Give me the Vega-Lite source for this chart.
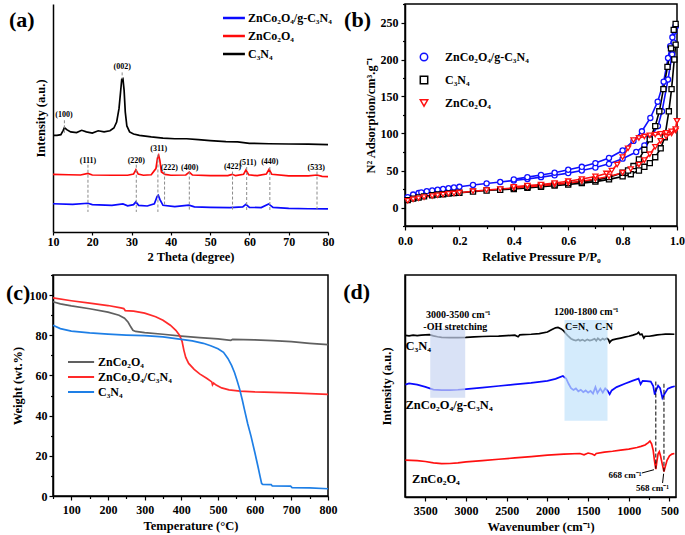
{
"$schema": "https://vega.github.io/schema/vega-lite/v6.json",
"padding": {"left": 5, "top": 2, "right": 5, "bottom": 5},
"background": "white",
"config": {
  "font": "Liberation Serif",
  "axis": {"labelFont": "Liberation Serif", "labelFontWeight": "bold", "labelFontSize": 12, "labelColor": "#000", "titleFont": "Liberation Serif", "titleFontWeight": "bold", "titleFontSize": 12.5, "titleColor": "#000", "domainColor": "#000", "domainWidth": 1.5, "tickColor": "#000", "tickWidth": 1.2, "tickSize": 4, "grid": false, "labelPadding": 3, "labelFlush": false, "labelOverlap": false, "labelSeparation": 0},
  "legend": {"labelFont": "Liberation Serif", "labelFontWeight": "bold", "labelFontSize": 12, "labelColor": "#000", "padding": 0},
  "view": {"stroke": "#000", "strokeWidth": 1.5}
},
"datasets": {
  "a_lines": [
    {"s":"C₃N₄","x":10,"y":42.4},{"s":"C₃N₄","x":11,"y":42.4},{"s":"C₃N₄","x":12,"y":42.7},{"s":"C₃N₄","x":12.6,"y":44.6},{"s":"C₃N₄","x":12.9,"y":45.8},{"s":"C₃N₄","x":13.5,"y":44.9},{"s":"C₃N₄","x":14.5,"y":43.9},{"s":"C₃N₄","x":16,"y":43.6},{"s":"C₃N₄","x":17.3,"y":44.6},{"s":"C₃N₄","x":18.5,"y":43.9},{"s":"C₃N₄","x":20,"y":43.4},{"s":"C₃N₄","x":21.5,"y":44.4},{"s":"C₃N₄","x":23,"y":43.9},{"s":"C₃N₄","x":24.5,"y":44.4},{"s":"C₃N₄","x":25.5,"y":45.6},{"s":"C₃N₄","x":26.2,"y":48.2},{"s":"C₃N₄","x":26.8,"y":54.1},{"s":"C₃N₄","x":27.2,"y":61.4},{"s":"C₃N₄","x":27.5,"y":67.0},{"s":"C₃N₄","x":27.8,"y":67.3},{"s":"C₃N₄","x":28.1,"y":62.1},{"s":"C₃N₄","x":28.4,"y":52.6},{"s":"C₃N₄","x":28.8,"y":46.5},{"s":"C₃N₄","x":29.5,"y":43.9},{"s":"C₃N₄","x":30.5,"y":43.0},{"s":"C₃N₄","x":32,"y":42.4},{"s":"C₃N₄","x":35,"y":41.7},{"s":"C₃N₄","x":38,"y":41.2},{"s":"C₃N₄","x":41,"y":40.9},{"s":"C₃N₄","x":44,"y":40.9},{"s":"C₃N₄","x":47,"y":40.5},{"s":"C₃N₄","x":50,"y":40.1},{"s":"C₃N₄","x":54,"y":39.6},{"s":"C₃N₄","x":57,"y":39.5},{"s":"C₃N₄","x":60,"y":38.9},{"s":"C₃N₄","x":65,"y":38.7},{"s":"C₃N₄","x":70,"y":38.6},{"s":"C₃N₄","x":75,"y":38.5},{"s":"C₃N₄","x":80,"y":38.3},
    {"s":"ZnCo₂O₄","x":10,"y":25.3},{"s":"ZnCo₂O₄","x":14,"y":25.1},{"s":"ZnCo₂O₄","x":17,"y":25.0},{"s":"ZnCo₂O₄","x":18.9,"y":25.7},{"s":"ZnCo₂O₄","x":20,"y":25.0},{"s":"ZnCo₂O₄","x":25,"y":24.9},{"s":"ZnCo₂O₄","x":29,"y":24.9},{"s":"ZnCo₂O₄","x":30.5,"y":25.4},{"s":"ZnCo₂O₄","x":31.1,"y":27.3},{"s":"ZnCo₂O₄","x":31.7,"y":25.4},{"s":"ZnCo₂O₄","x":33,"y":24.9},{"s":"ZnCo₂O₄","x":35,"y":25.1},{"s":"ZnCo₂O₄","x":36.2,"y":27.8},{"s":"ZnCo₂O₄","x":36.6,"y":32.5},{"s":"ZnCo₂O₄","x":36.9,"y":33.6},{"s":"ZnCo₂O₄","x":37.2,"y":31.4},{"s":"ZnCo₂O₄","x":37.6,"y":26.3},{"s":"ZnCo₂O₄","x":38.5,"y":25.3},{"s":"ZnCo₂O₄","x":40,"y":24.9},{"s":"ZnCo₂O₄","x":43.8,"y":25.0},{"s":"ZnCo₂O₄","x":44.7,"y":26.3},{"s":"ZnCo₂O₄","x":45.5,"y":25.0},{"s":"ZnCo₂O₄","x":50,"y":24.7},{"s":"ZnCo₂O₄","x":54.5,"y":24.7},{"s":"ZnCo₂O₄","x":55.6,"y":25.3},{"s":"ZnCo₂O₄","x":56.5,"y":24.7},{"s":"ZnCo₂O₄","x":58.5,"y":25.3},{"s":"ZnCo₂O₄","x":59.1,"y":27.2},{"s":"ZnCo₂O₄","x":59.8,"y":25.1},{"s":"ZnCo₂O₄","x":62,"y":24.7},{"s":"ZnCo₂O₄","x":64.3,"y":25.4},{"s":"ZnCo₂O₄","x":65.0,"y":27.5},{"s":"ZnCo₂O₄","x":65.7,"y":25.3},{"s":"ZnCo₂O₄","x":70,"y":24.6},{"s":"ZnCo₂O₄","x":75,"y":24.6},{"s":"ZnCo₂O₄","x":77.2,"y":25.0},{"s":"ZnCo₂O₄","x":78.5,"y":24.4},{"s":"ZnCo₂O₄","x":80,"y":24.3},
    {"s":"ZnCo₂O₄/g-C₃N₄","x":10,"y":12.4},{"s":"ZnCo₂O₄/g-C₃N₄","x":15,"y":12.1},{"s":"ZnCo₂O₄/g-C₃N₄","x":18.9,"y":12.6},{"s":"ZnCo₂O₄/g-C₃N₄","x":20,"y":12.0},{"s":"ZnCo₂O₄/g-C₃N₄","x":25,"y":11.7},{"s":"ZnCo₂O₄/g-C₃N₄","x":27.8,"y":12.3},{"s":"ZnCo₂O₄/g-C₃N₄","x":29,"y":11.5},{"s":"ZnCo₂O₄/g-C₃N₄","x":30.5,"y":12.0},{"s":"ZnCo₂O₄/g-C₃N₄","x":31.1,"y":13.2},{"s":"ZnCo₂O₄/g-C₃N₄","x":31.8,"y":11.7},{"s":"ZnCo₂O₄/g-C₃N₄","x":34,"y":11.4},{"s":"ZnCo₂O₄/g-C₃N₄","x":35.8,"y":12.4},{"s":"ZnCo₂O₄/g-C₃N₄","x":36.5,"y":15.6},{"s":"ZnCo₂O₄/g-C₃N₄","x":36.8,"y":16.1},{"s":"ZnCo₂O₄/g-C₃N₄","x":37.2,"y":14.3},{"s":"ZnCo₂O₄/g-C₃N₄","x":38,"y":11.7},{"s":"ZnCo₂O₄/g-C₃N₄","x":41,"y":11.1},{"s":"ZnCo₂O₄/g-C₃N₄","x":44.6,"y":11.8},{"s":"ZnCo₂O₄/g-C₃N₄","x":46,"y":11.0},{"s":"ZnCo₂O₄/g-C₃N₄","x":50,"y":10.8},{"s":"ZnCo₂O₄/g-C₃N₄","x":55,"y":10.7},{"s":"ZnCo₂O₄/g-C₃N₄","x":58.3,"y":11.0},{"s":"ZnCo₂O₄/g-C₃N₄","x":59.1,"y":12.1},{"s":"ZnCo₂O₄/g-C₃N₄","x":60,"y":10.8},{"s":"ZnCo₂O₄/g-C₃N₄","x":63,"y":10.7},{"s":"ZnCo₂O₄/g-C₃N₄","x":64.9,"y":12.3},{"s":"ZnCo₂O₄/g-C₃N₄","x":66,"y":10.8},{"s":"ZnCo₂O₄/g-C₃N₄","x":70,"y":10.4},{"s":"ZnCo₂O₄/g-C₃N₄","x":75,"y":10.2},{"s":"ZnCo₂O₄/g-C₃N₄","x":80,"y":10.1}
  ],
  "a_rules": [
    {"x":18.9,"y":29.5,"y2":8.8},{"x":31.2,"y":29.5,"y2":8.8},{"x":36.7,"y":34,"y2":8.8},{"x":38.4,"y":26.5,"y2":11.5},{"x":44.7,"y":26.5,"y2":9.5},{"x":55.7,"y":26.5,"y2":9.2},{"x":59.3,"y":28.5,"y2":9.5},{"x":65.2,"y":28.5,"y2":9.5},{"x":77.2,"y":26.5,"y2":9.2},{"x":12.9,"y":49,"y2":43.5},{"x":27.6,"y":70,"y2":67}
  ],
  "a_labels": [
    {"x":12.8,"y":51.2,"t":"(100)"},{"x":27.6,"y":72.4,"t":"(002)"},{"x":18.9,"y":31.0,"t":"(111)"},{"x":31.2,"y":31.0,"t":"(220)"},{"x":36.9,"y":36.5,"t":"(311)"},{"x":39.6,"y":28.2,"t":"(222)"},{"x":44.8,"y":28.2,"t":"(400)"},{"x":55.7,"y":28.7,"t":"(422)"},{"x":59.6,"y":30.4,"t":"(511)"},{"x":65.2,"y":30.7,"t":"(440)"},{"x":77.0,"y":28.2,"t":"(533)"}
  ],
  "a_tag": [{"x":-1.2,"y":89.9,"t":"(a)"}],
  "b_tag": [{"x":-0.224,"y":243.9,"t":"(b)"}],
  "c_tag": [{"x":-78.2,"y":97.6,"t":"(c)"}],
  "d_tag": [{"x":4510,"y":89.2,"t":"(d)"}],
  "b_pts": [
    {"s":"ZnCo₂O₄/g-C₃N₄","b":"a","x":0.01,"y":14},{"s":"ZnCo₂O₄/g-C₃N₄","b":"a","x":0.03,"y":17.5},{"s":"ZnCo₂O₄/g-C₃N₄","b":"a","x":0.05,"y":19.5},{"s":"ZnCo₂O₄/g-C₃N₄","b":"a","x":0.06,"y":20.5},{"s":"ZnCo₂O₄/g-C₃N₄","b":"a","x":0.08,"y":22},{"s":"ZnCo₂O₄/g-C₃N₄","b":"a","x":0.1,"y":23},{"s":"ZnCo₂O₄/g-C₃N₄","b":"a","x":0.12,"y":24},{"s":"ZnCo₂O₄/g-C₃N₄","b":"a","x":0.14,"y":25},{"s":"ZnCo₂O₄/g-C₃N₄","b":"a","x":0.16,"y":26},{"s":"ZnCo₂O₄/g-C₃N₄","b":"a","x":0.18,"y":27},{"s":"ZnCo₂O₄/g-C₃N₄","b":"a","x":0.2,"y":28},{"s":"ZnCo₂O₄/g-C₃N₄","b":"a","x":0.25,"y":30.5},{"s":"ZnCo₂O₄/g-C₃N₄","b":"a","x":0.3,"y":32.5},{"s":"ZnCo₂O₄/g-C₃N₄","b":"a","x":0.35,"y":34.5},{"s":"ZnCo₂O₄/g-C₃N₄","b":"a","x":0.4,"y":36.5},{"s":"ZnCo₂O₄/g-C₃N₄","b":"a","x":0.45,"y":38.5},{"s":"ZnCo₂O₄/g-C₃N₄","b":"a","x":0.5,"y":41},{"s":"ZnCo₂O₄/g-C₃N₄","b":"a","x":0.55,"y":43.5},{"s":"ZnCo₂O₄/g-C₃N₄","b":"a","x":0.6,"y":46.5},{"s":"ZnCo₂O₄/g-C₃N₄","b":"a","x":0.65,"y":50},{"s":"ZnCo₂O₄/g-C₃N₄","b":"a","x":0.7,"y":54},{"s":"ZnCo₂O₄/g-C₃N₄","b":"a","x":0.75,"y":59},{"s":"ZnCo₂O₄/g-C₃N₄","b":"a","x":0.8,"y":66},{"s":"ZnCo₂O₄/g-C₃N₄","b":"a","x":0.85,"y":75},{"s":"ZnCo₂O₄/g-C₃N₄","b":"a","x":0.88,"y":84},{"s":"ZnCo₂O₄/g-C₃N₄","b":"a","x":0.9,"y":94},{"s":"ZnCo₂O₄/g-C₃N₄","b":"a","x":0.93,"y":110},{"s":"ZnCo₂O₄/g-C₃N₄","b":"a","x":0.945,"y":130},{"s":"ZnCo₂O₄/g-C₃N₄","b":"a","x":0.967,"y":173},{"s":"ZnCo₂O₄/g-C₃N₄","b":"a","x":0.982,"y":207},{"s":"ZnCo₂O₄/g-C₃N₄","b":"a","x":0.988,"y":223},{"s":"ZnCo₂O₄/g-C₃N₄","b":"a","x":0.995,"y":245},
    {"s":"ZnCo₂O₄/g-C₃N₄","b":"d","x":0.995,"y":245},{"s":"ZnCo₂O₄/g-C₃N₄","b":"d","x":0.99,"y":238},{"s":"ZnCo₂O₄/g-C₃N₄","b":"d","x":0.983,"y":230},{"s":"ZnCo₂O₄/g-C₃N₄","b":"d","x":0.975,"y":218},{"s":"ZnCo₂O₄/g-C₃N₄","b":"d","x":0.967,"y":202},{"s":"ZnCo₂O₄/g-C₃N₄","b":"d","x":0.951,"y":170},{"s":"ZnCo₂O₄/g-C₃N₄","b":"d","x":0.929,"y":143},{"s":"ZnCo₂O₄/g-C₃N₄","b":"d","x":0.902,"y":121},{"s":"ZnCo₂O₄/g-C₃N₄","b":"d","x":0.871,"y":103},{"s":"ZnCo₂O₄/g-C₃N₄","b":"d","x":0.84,"y":90},{"s":"ZnCo₂O₄/g-C₃N₄","b":"d","x":0.8,"y":77},{"s":"ZnCo₂O₄/g-C₃N₄","b":"d","x":0.75,"y":67},{"s":"ZnCo₂O₄/g-C₃N₄","b":"d","x":0.7,"y":60},{"s":"ZnCo₂O₄/g-C₃N₄","b":"d","x":0.65,"y":55},{"s":"ZnCo₂O₄/g-C₃N₄","b":"d","x":0.6,"y":51},{"s":"ZnCo₂O₄/g-C₃N₄","b":"d","x":0.55,"y":47},{"s":"ZnCo₂O₄/g-C₃N₄","b":"d","x":0.5,"y":44},{"s":"ZnCo₂O₄/g-C₃N₄","b":"d","x":0.45,"y":41},{"s":"ZnCo₂O₄/g-C₃N₄","b":"d","x":0.4,"y":38},
    {"s":"C₃N₄","b":"a","x":0.01,"y":10},{"s":"C₃N₄","b":"a","x":0.03,"y":12},{"s":"C₃N₄","b":"a","x":0.05,"y":13.5},{"s":"C₃N₄","b":"a","x":0.07,"y":15},{"s":"C₃N₄","b":"a","x":0.1,"y":16.5},{"s":"C₃N₄","b":"a","x":0.12,"y":17.5},{"s":"C₃N₄","b":"a","x":0.14,"y":18},{"s":"C₃N₄","b":"a","x":0.16,"y":19},{"s":"C₃N₄","b":"a","x":0.18,"y":19.5},{"s":"C₃N₄","b":"a","x":0.2,"y":20},{"s":"C₃N₄","b":"a","x":0.25,"y":21.5},{"s":"C₃N₄","b":"a","x":0.3,"y":23},{"s":"C₃N₄","b":"a","x":0.35,"y":24},{"s":"C₃N₄","b":"a","x":0.4,"y":25},{"s":"C₃N₄","b":"a","x":0.45,"y":26.5},{"s":"C₃N₄","b":"a","x":0.5,"y":28},{"s":"C₃N₄","b":"a","x":0.55,"y":29.5},{"s":"C₃N₄","b":"a","x":0.6,"y":31},{"s":"C₃N₄","b":"a","x":0.65,"y":33},{"s":"C₃N₄","b":"a","x":0.7,"y":35},{"s":"C₃N₄","b":"a","x":0.75,"y":38},{"s":"C₃N₄","b":"a","x":0.8,"y":42},{"s":"C₃N₄","b":"a","x":0.83,"y":45},{"s":"C₃N₄","b":"a","x":0.86,"y":50},{"s":"C₃N₄","b":"a","x":0.88,"y":55},{"s":"C₃N₄","b":"a","x":0.9,"y":60},{"s":"C₃N₄","b":"a","x":0.92,"y":68},{"s":"C₃N₄","b":"a","x":0.94,"y":80},{"s":"C₃N₄","b":"a","x":0.955,"y":95},{"s":"C₃N₄","b":"a","x":0.97,"y":130},{"s":"C₃N₄","b":"a","x":0.98,"y":160},{"s":"C₃N₄","b":"a","x":0.99,"y":200},{"s":"C₃N₄","b":"a","x":0.995,"y":220},
    {"s":"C₃N₄","b":"d","x":0.995,"y":248},{"s":"C₃N₄","b":"d","x":0.988,"y":240},{"s":"C₃N₄","b":"d","x":0.978,"y":215},{"s":"C₃N₄","b":"d","x":0.965,"y":190},{"s":"C₃N₄","b":"d","x":0.95,"y":160},{"s":"C₃N₄","b":"d","x":0.935,"y":130},{"s":"C₃N₄","b":"d","x":0.92,"y":110},{"s":"C₃N₄","b":"d","x":0.9,"y":92},{"s":"C₃N₄","b":"d","x":0.88,"y":78},{"s":"C₃N₄","b":"d","x":0.86,"y":65},{"s":"C₃N₄","b":"d","x":0.84,"y":56},{"s":"C₃N₄","b":"d","x":0.82,"y":50},{"s":"C₃N₄","b":"d","x":0.8,"y":47},{"s":"C₃N₄","b":"d","x":0.75,"y":41},{"s":"C₃N₄","b":"d","x":0.7,"y":37},{"s":"C₃N₄","b":"d","x":0.65,"y":35},{"s":"C₃N₄","b":"d","x":0.6,"y":33},{"s":"C₃N₄","b":"d","x":0.55,"y":31},{"s":"C₃N₄","b":"d","x":0.5,"y":29.5},{"s":"C₃N₄","b":"d","x":0.45,"y":28},{"s":"C₃N₄","b":"d","x":0.4,"y":26.5},
    {"s":"ZnCo₂O₄","b":"a","x":0.01,"y":9},{"s":"ZnCo₂O₄","b":"a","x":0.03,"y":11},{"s":"ZnCo₂O₄","b":"a","x":0.05,"y":12.5},{"s":"ZnCo₂O₄","b":"a","x":0.07,"y":14},{"s":"ZnCo₂O₄","b":"a","x":0.1,"y":15.5},{"s":"ZnCo₂O₄","b":"a","x":0.12,"y":16.5},{"s":"ZnCo₂O₄","b":"a","x":0.14,"y":17.5},{"s":"ZnCo₂O₄","b":"a","x":0.16,"y":18.5},{"s":"ZnCo₂O₄","b":"a","x":0.18,"y":19},{"s":"ZnCo₂O₄","b":"a","x":0.2,"y":20},{"s":"ZnCo₂O₄","b":"a","x":0.25,"y":22},{"s":"ZnCo₂O₄","b":"a","x":0.3,"y":23.5},{"s":"ZnCo₂O₄","b":"a","x":0.35,"y":25},{"s":"ZnCo₂O₄","b":"a","x":0.4,"y":26.5},{"s":"ZnCo₂O₄","b":"a","x":0.45,"y":28},{"s":"ZnCo₂O₄","b":"a","x":0.5,"y":29.5},{"s":"ZnCo₂O₄","b":"a","x":0.55,"y":31},{"s":"ZnCo₂O₄","b":"a","x":0.6,"y":33},{"s":"ZnCo₂O₄","b":"a","x":0.65,"y":35.5},{"s":"ZnCo₂O₄","b":"a","x":0.7,"y":38.5},{"s":"ZnCo₂O₄","b":"a","x":0.75,"y":42},{"s":"ZnCo₂O₄","b":"a","x":0.8,"y":47},{"s":"ZnCo₂O₄","b":"a","x":0.83,"y":52},{"s":"ZnCo₂O₄","b":"a","x":0.86,"y":58},{"s":"ZnCo₂O₄","b":"a","x":0.88,"y":64},{"s":"ZnCo₂O₄","b":"a","x":0.9,"y":72},{"s":"ZnCo₂O₄","b":"a","x":0.92,"y":82},{"s":"ZnCo₂O₄","b":"a","x":0.94,"y":90},{"s":"ZnCo₂O₄","b":"a","x":0.96,"y":96},{"s":"ZnCo₂O₄","b":"a","x":0.98,"y":100},{"s":"ZnCo₂O₄","b":"a","x":0.995,"y":104},{"s":"ZnCo₂O₄","b":"a","x":1.0,"y":117},
    {"s":"ZnCo₂O₄","b":"d","x":1.0,"y":117},{"s":"ZnCo₂O₄","b":"d","x":0.995,"y":106},{"s":"ZnCo₂O₄","b":"d","x":0.98,"y":103},{"s":"ZnCo₂O₄","b":"d","x":0.96,"y":101},{"s":"ZnCo₂O₄","b":"d","x":0.94,"y":99.5},{"s":"ZnCo₂O₄","b":"d","x":0.92,"y":98.5},{"s":"ZnCo₂O₄","b":"d","x":0.9,"y":97.5},{"s":"ZnCo₂O₄","b":"d","x":0.88,"y":96},{"s":"ZnCo₂O₄","b":"d","x":0.86,"y":94},{"s":"ZnCo₂O₄","b":"d","x":0.84,"y":91},{"s":"ZnCo₂O₄","b":"d","x":0.82,"y":80},{"s":"ZnCo₂O₄","b":"d","x":0.8,"y":68},{"s":"ZnCo₂O₄","b":"d","x":0.78,"y":58},{"s":"ZnCo₂O₄","b":"d","x":0.76,"y":50},{"s":"ZnCo₂O₄","b":"d","x":0.74,"y":46},{"s":"ZnCo₂O₄","b":"d","x":0.7,"y":42},{"s":"ZnCo₂O₄","b":"d","x":0.65,"y":38.5},{"s":"ZnCo₂O₄","b":"d","x":0.6,"y":35.5},{"s":"ZnCo₂O₄","b":"d","x":0.55,"y":33},{"s":"ZnCo₂O₄","b":"d","x":0.5,"y":31},{"s":"ZnCo₂O₄","b":"d","x":0.45,"y":29.5},{"s":"ZnCo₂O₄","b":"d","x":0.4,"y":28}
  ],
  "c_lines": [
    {"s":"ZnCo₂O₄","x":50,"y":96.7},{"s":"ZnCo₂O₄","x":70,"y":95.6},{"s":"ZnCo₂O₄","x":100,"y":94.6},{"s":"ZnCo₂O₄","x":150,"y":93.2},{"s":"ZnCo₂O₄","x":200,"y":91.5},{"s":"ZnCo₂O₄","x":230,"y":90},{"s":"ZnCo₂O₄","x":245,"y":88.5},{"s":"ZnCo₂O₄","x":255,"y":86.5},{"s":"ZnCo₂O₄","x":262,"y":84.2},{"s":"ZnCo₂O₄","x":268,"y":82.5},{"s":"ZnCo₂O₄","x":275,"y":81.9},{"s":"ZnCo₂O₄","x":300,"y":81.3},{"s":"ZnCo₂O₄","x":350,"y":80.5},{"s":"ZnCo₂O₄","x":400,"y":79.6},{"s":"ZnCo₂O₄","x":450,"y":78.8},{"s":"ZnCo₂O₄","x":500,"y":78.2},{"s":"ZnCo₂O₄","x":535,"y":77.5},{"s":"ZnCo₂O₄","x":540,"y":78.0},{"s":"ZnCo₂O₄","x":600,"y":77.7},{"s":"ZnCo₂O₄","x":650,"y":77.3},{"s":"ZnCo₂O₄","x":700,"y":76.8},{"s":"ZnCo₂O₄","x":750,"y":76},{"s":"ZnCo₂O₄","x":800,"y":75.3},
    {"s":"ZnCo₂O₄/C₃N₄","x":50,"y":98.6},{"s":"ZnCo₂O₄/C₃N₄","x":100,"y":97.2},{"s":"ZnCo₂O₄/C₃N₄","x":150,"y":96},{"s":"ZnCo₂O₄/C₃N₄","x":200,"y":94.8},{"s":"ZnCo₂O₄/C₃N₄","x":235,"y":93.6},{"s":"ZnCo₂O₄/C₃N₄","x":243,"y":93.3},{"s":"ZnCo₂O₄/C₃N₄","x":247,"y":92.3},{"s":"ZnCo₂O₄/C₃N₄","x":270,"y":92.0},{"s":"ZnCo₂O₄/C₃N₄","x":300,"y":91.0},{"s":"ZnCo₂O₄/C₃N₄","x":330,"y":89.2},{"s":"ZnCo₂O₄/C₃N₄","x":350,"y":87.5},{"s":"ZnCo₂O₄/C₃N₄","x":370,"y":85},{"s":"ZnCo₂O₄/C₃N₄","x":385,"y":82.5},{"s":"ZnCo₂O₄/C₃N₄","x":395,"y":80},{"s":"ZnCo₂O₄/C₃N₄","x":402,"y":77},{"s":"ZnCo₂O₄/C₃N₄","x":407,"y":72.5},{"s":"ZnCo₂O₄/C₃N₄","x":412,"y":69},{"s":"ZnCo₂O₄/C₃N₄","x":420,"y":66},{"s":"ZnCo₂O₄/C₃N₄","x":435,"y":63},{"s":"ZnCo₂O₄/C₃N₄","x":450,"y":60.8},{"s":"ZnCo₂O₄/C₃N₄","x":470,"y":58.5},{"s":"ZnCo₂O₄/C₃N₄","x":483,"y":56.8},{"s":"ZnCo₂O₄/C₃N₄","x":485,"y":55.3},{"s":"ZnCo₂O₄/C₃N₄","x":488,"y":56.2},{"s":"ZnCo₂O₄/C₃N₄","x":495,"y":55.2},{"s":"ZnCo₂O₄/C₃N₄","x":510,"y":53.8},{"s":"ZnCo₂O₄/C₃N₄","x":530,"y":52.8},{"s":"ZnCo₂O₄/C₃N₄","x":560,"y":52.2},{"s":"ZnCo₂O₄/C₃N₄","x":600,"y":51.8},{"s":"ZnCo₂O₄/C₃N₄","x":700,"y":51.3},{"s":"ZnCo₂O₄/C₃N₄","x":800,"y":50.6},
    {"s":"C₃N₄","x":50,"y":85},{"s":"C₃N₄","x":70,"y":83.3},{"s":"C₃N₄","x":100,"y":82.1},{"s":"C₃N₄","x":150,"y":81.2},{"s":"C₃N₄","x":200,"y":80.6},{"s":"C₃N₄","x":250,"y":80.1},{"s":"C₃N₄","x":300,"y":79.8},{"s":"C₃N₄","x":350,"y":79.2},{"s":"C₃N₄","x":400,"y":78.0},{"s":"C₃N₄","x":430,"y":77.2},{"s":"C₃N₄","x":460,"y":76.0},{"s":"C₃N₄","x":480,"y":74.8},{"s":"C₃N₄","x":500,"y":73.3},{"s":"C₃N₄","x":515,"y":71.5},{"s":"C₃N₄","x":527,"y":68.5},{"s":"C₃N₄","x":537,"y":65},{"s":"C₃N₄","x":545,"y":61.5},{"s":"C₃N₄","x":552,"y":57.5},{"s":"C₃N₄","x":559,"y":53.2},{"s":"C₃N₄","x":566,"y":48},{"s":"C₃N₄","x":572,"y":43.1},{"s":"C₃N₄","x":581,"y":36},{"s":"C₃N₄","x":590,"y":29.8},{"s":"C₃N₄","x":600,"y":22},{"s":"C₃N₄","x":609,"y":14.7},{"s":"C₃N₄","x":615,"y":9.5},{"s":"C₃N₄","x":619,"y":6.2},{"s":"C₃N₄","x":622,"y":5.8},{"s":"C₃N₄","x":645,"y":5.7},{"s":"C₃N₄","x":648,"y":5.0},{"s":"C₃N₄","x":698,"y":4.9},{"s":"C₃N₄","x":702,"y":4.2},{"s":"C₃N₄","x":750,"y":4.0},{"s":"C₃N₄","x":800,"y":3.6}
  ],
  "d_lines": [
    {"s":"C₃N₄","x":3745,"y":72.8},{"s":"C₃N₄","x":3700,"y":72.6},{"s":"C₃N₄","x":3650,"y":72.9},{"s":"C₃N₄","x":3600,"y":72.7},{"s":"C₃N₄","x":3550,"y":72.9},{"s":"C₃N₄","x":3500,"y":73.0},{"s":"C₃N₄","x":3450,"y":73.1},{"s":"C₃N₄","x":3400,"y":72.6},{"s":"C₃N₄","x":3350,"y":72.2},{"s":"C₃N₄","x":3300,"y":71.9},{"s":"C₃N₄","x":3200,"y":71.8},{"s":"C₃N₄","x":3100,"y":71.8},{"s":"C₃N₄","x":3000,"y":71.9},{"s":"C₃N₄","x":2900,"y":72.1},{"s":"C₃N₄","x":2800,"y":72.3},{"s":"C₃N₄","x":2700,"y":72.4},{"s":"C₃N₄","x":2600,"y":72.5},{"s":"C₃N₄","x":2500,"y":72.7},{"s":"C₃N₄","x":2400,"y":72.9},{"s":"C₃N₄","x":2360,"y":72.2},{"s":"C₃N₄","x":2340,"y":73.0},{"s":"C₃N₄","x":2300,"y":73.1},{"s":"C₃N₄","x":2200,"y":73.3},{"s":"C₃N₄","x":2100,"y":73.6},{"s":"C₃N₄","x":2000,"y":74.3},{"s":"C₃N₄","x":1950,"y":75.3},{"s":"C₃N₄","x":1900,"y":76.2},{"s":"C₃N₄","x":1870,"y":76.4},{"s":"C₃N₄","x":1830,"y":75.7},{"s":"C₃N₄","x":1800,"y":74.8},{"s":"C₃N₄","x":1770,"y":73.5},{"s":"C₃N₄","x":1740,"y":72.3},{"s":"C₃N₄","x":1710,"y":71.3},{"s":"C₃N₄","x":1680,"y":70.8},{"s":"C₃N₄","x":1650,"y":70.5},{"s":"C₃N₄","x":1620,"y":71.0},{"s":"C₃N₄","x":1600,"y":70.4},{"s":"C₃N₄","x":1570,"y":70.9},{"s":"C₃N₄","x":1540,"y":70.3},{"s":"C₃N₄","x":1510,"y":71.0},{"s":"C₃N₄","x":1480,"y":70.5},{"s":"C₃N₄","x":1450,"y":70.8},{"s":"C₃N₄","x":1420,"y":71.3},{"s":"C₃N₄","x":1400,"y":70.4},{"s":"C₃N₄","x":1380,"y":71.5},{"s":"C₃N₄","x":1350,"y":70.5},{"s":"C₃N₄","x":1320,"y":71.4},{"s":"C₃N₄","x":1300,"y":70.8},{"s":"C₃N₄","x":1270,"y":71.5},{"s":"C₃N₄","x":1250,"y":70.9},{"s":"C₃N₄","x":1235,"y":69.6},{"s":"C₃N₄","x":1220,"y":70.3},{"s":"C₃N₄","x":1200,"y":70.8},{"s":"C₃N₄","x":1150,"y":71.2},{"s":"C₃N₄","x":1100,"y":71.6},{"s":"C₃N₄","x":1050,"y":72.0},{"s":"C₃N₄","x":1000,"y":72.4},{"s":"C₃N₄","x":950,"y":72.9},{"s":"C₃N₄","x":900,"y":73.5},{"s":"C₃N₄","x":880,"y":74.2},{"s":"C₃N₄","x":860,"y":73.1},{"s":"C₃N₄","x":840,"y":73.4},{"s":"C₃N₄","x":815,"y":71.6},{"s":"C₃N₄","x":800,"y":72.4},{"s":"C₃N₄","x":750,"y":72.4},{"s":"C₃N₄","x":700,"y":72.7},{"s":"C₃N₄","x":650,"y":73.0},{"s":"C₃N₄","x":600,"y":73.2},{"s":"C₃N₄","x":550,"y":73.4},{"s":"C₃N₄","x":500,"y":73.4},{"s":"C₃N₄","x":440,"y":73.3},
    {"s":"ZnCo₂O₄/g-C₃N₄","x":3745,"y":50.6},{"s":"ZnCo₂O₄/g-C₃N₄","x":3700,"y":51.2},{"s":"ZnCo₂O₄/g-C₃N₄","x":3600,"y":50.6},{"s":"ZnCo₂O₄/g-C₃N₄","x":3500,"y":49.6},{"s":"ZnCo₂O₄/g-C₃N₄","x":3400,"y":48.4},{"s":"ZnCo₂O₄/g-C₃N₄","x":3300,"y":48.1},{"s":"ZnCo₂O₄/g-C₃N₄","x":3200,"y":48.1},{"s":"ZnCo₂O₄/g-C₃N₄","x":3100,"y":48.3},{"s":"ZnCo₂O₄/g-C₃N₄","x":3000,"y":48.6},{"s":"ZnCo₂O₄/g-C₃N₄","x":2800,"y":49.3},{"s":"ZnCo₂O₄/g-C₃N₄","x":2600,"y":50.0},{"s":"ZnCo₂O₄/g-C₃N₄","x":2400,"y":50.7},{"s":"ZnCo₂O₄/g-C₃N₄","x":2200,"y":51.4},{"s":"ZnCo₂O₄/g-C₃N₄","x":2000,"y":52.3},{"s":"ZnCo₂O₄/g-C₃N₄","x":1900,"y":53.2},{"s":"ZnCo₂O₄/g-C₃N₄","x":1810,"y":54.5},{"s":"ZnCo₂O₄/g-C₃N₄","x":1770,"y":53.4},{"s":"ZnCo₂O₄/g-C₃N₄","x":1740,"y":51.0},{"s":"ZnCo₂O₄/g-C₃N₄","x":1710,"y":49.0},{"s":"ZnCo₂O₄/g-C₃N₄","x":1680,"y":48.2},{"s":"ZnCo₂O₄/g-C₃N₄","x":1650,"y":48.9},{"s":"ZnCo₂O₄/g-C₃N₄","x":1620,"y":47.6},{"s":"ZnCo₂O₄/g-C₃N₄","x":1590,"y":48.3},{"s":"ZnCo₂O₄/g-C₃N₄","x":1560,"y":47.2},{"s":"ZnCo₂O₄/g-C₃N₄","x":1530,"y":48.0},{"s":"ZnCo₂O₄/g-C₃N₄","x":1500,"y":47.0},{"s":"ZnCo₂O₄/g-C₃N₄","x":1470,"y":47.8},{"s":"ZnCo₂O₄/g-C₃N₄","x":1440,"y":46.6},{"s":"ZnCo₂O₄/g-C₃N₄","x":1410,"y":49.5},{"s":"ZnCo₂O₄/g-C₃N₄","x":1385,"y":46.8},{"s":"ZnCo₂O₄/g-C₃N₄","x":1350,"y":48.8},{"s":"ZnCo₂O₄/g-C₃N₄","x":1320,"y":47.0},{"s":"ZnCo₂O₄/g-C₃N₄","x":1290,"y":48.9},{"s":"ZnCo₂O₄/g-C₃N₄","x":1260,"y":47.8},{"s":"ZnCo₂O₄/g-C₃N₄","x":1235,"y":46.3},{"s":"ZnCo₂O₄/g-C₃N₄","x":1210,"y":48.0},{"s":"ZnCo₂O₄/g-C₃N₄","x":1150,"y":49.5},{"s":"ZnCo₂O₄/g-C₃N₄","x":1050,"y":51.0},{"s":"ZnCo₂O₄/g-C₃N₄","x":950,"y":52.4},{"s":"ZnCo₂O₄/g-C₃N₄","x":880,"y":53.3},{"s":"ZnCo₂O₄/g-C₃N₄","x":855,"y":50.8},{"s":"ZnCo₂O₄/g-C₃N₄","x":830,"y":52.3},{"s":"ZnCo₂O₄/g-C₃N₄","x":780,"y":52.2},{"s":"ZnCo₂O₄/g-C₃N₄","x":730,"y":52.0},{"s":"ZnCo₂O₄/g-C₃N₄","x":700,"y":50.0},{"s":"ZnCo₂O₄/g-C₃N₄","x":681,"y":46.1},{"s":"ZnCo₂O₄/g-C₃N₄","x":660,"y":48.5},{"s":"ZnCo₂O₄/g-C₃N₄","x":640,"y":50.2},{"s":"ZnCo₂O₄/g-C₃N₄","x":615,"y":49.0},{"s":"ZnCo₂O₄/g-C₃N₄","x":587,"y":44.6},{"s":"ZnCo₂O₄/g-C₃N₄","x":560,"y":46.5},{"s":"ZnCo₂O₄/g-C₃N₄","x":520,"y":48.8},{"s":"ZnCo₂O₄/g-C₃N₄","x":475,"y":49.5},{"s":"ZnCo₂O₄/g-C₃N₄","x":435,"y":49.9},
    {"s":"ZnCo₂O₄","x":3745,"y":16.6},{"s":"ZnCo₂O₄","x":3600,"y":16.4},{"s":"ZnCo₂O₄","x":3500,"y":16.0},{"s":"ZnCo₂O₄","x":3400,"y":15.4},{"s":"ZnCo₂O₄","x":3300,"y":15.0},{"s":"ZnCo₂O₄","x":3200,"y":15.1},{"s":"ZnCo₂O₄","x":3100,"y":15.4},{"s":"ZnCo₂O₄","x":3000,"y":15.8},{"s":"ZnCo₂O₄","x":2800,"y":16.4},{"s":"ZnCo₂O₄","x":2600,"y":17.0},{"s":"ZnCo₂O₄","x":2400,"y":17.6},{"s":"ZnCo₂O₄","x":2200,"y":18.2},{"s":"ZnCo₂O₄","x":2000,"y":18.9},{"s":"ZnCo₂O₄","x":1800,"y":19.3},{"s":"ZnCo₂O₄","x":1600,"y":19.6},{"s":"ZnCo₂O₄","x":1550,"y":19.0},{"s":"ZnCo₂O₄","x":1500,"y":19.8},{"s":"ZnCo₂O₄","x":1450,"y":19.4},{"s":"ZnCo₂O₄","x":1420,"y":18.8},{"s":"ZnCo₂O₄","x":1400,"y":19.6},{"s":"ZnCo₂O₄","x":1300,"y":20.2},{"s":"ZnCo₂O₄","x":1200,"y":20.6},{"s":"ZnCo₂O₄","x":1100,"y":21.1},{"s":"ZnCo₂O₄","x":1000,"y":21.6},{"s":"ZnCo₂O₄","x":900,"y":22.3},{"s":"ZnCo₂O₄","x":850,"y":22.8},{"s":"ZnCo₂O₄","x":800,"y":23.4},{"s":"ZnCo₂O₄","x":760,"y":24.5},{"s":"ZnCo₂O₄","x":740,"y":25.2},{"s":"ZnCo₂O₄","x":720,"y":24.0},{"s":"ZnCo₂O₄","x":700,"y":21.0},{"s":"ZnCo₂O₄","x":685,"y":16.5},{"s":"ZnCo₂O₄","x":668,"y":12.6},{"s":"ZnCo₂O₄","x":655,"y":16.0},{"s":"ZnCo₂O₄","x":640,"y":19.5},{"s":"ZnCo₂O₄","x":625,"y":20.4},{"s":"ZnCo₂O₄","x":610,"y":18.5},{"s":"ZnCo₂O₄","x":590,"y":15.0},{"s":"ZnCo₂O₄","x":568,"y":11.5},{"s":"ZnCo₂O₄","x":550,"y":14.0},{"s":"ZnCo₂O₄","x":530,"y":16.5},{"s":"ZnCo₂O₄","x":500,"y":18.5},{"s":"ZnCo₂O₄","x":470,"y":19.3},{"s":"ZnCo₂O₄","x":440,"y":19.6}
  ],
  "d_bands": [
    {"band":"oh","x":3440,"x2":3010,"y":44.7,"y2":75.9},
    {"band":"cn","x":1790,"x2":1262,"y":34.3,"y2":79.7}
  ],
  "d_rules": [
    {"x":668,"y":52,"y2":12.8},{"x":568,"y":51,"y2":11.5}
  ],
  "d_arrows": [
    {"x":840,"x2":690,"y":10.8,"y2":12.3},{"x":585,"x2":572,"y":6.3,"y2":10.5}
  ],
  "d_ctext": [
    {"x":3096,"y":81.8,"t":"3000-3500 cm⁻¹"},{"x":3132,"y":76.6,"t":"-OH stretching"},{"x":1523,"y":83.3,"t":"1200-1800 cm⁻¹"},{"x":1490,"y":76.6,"t":"C=N、C-N"}
  ],
  "d_ltext": [
    {"x":3745,"y":68.0,"t":"C₃N₄"},{"x":3745,"y":41.3,"t":"ZnCo₂O₄/g-C₃N₄"},{"x":3663,"y":8.3,"t":"ZnCo₂O₄"}
  ],
  "d_small": [
    {"x":844,"y":9.8,"t":"668 cm⁻¹","k":"r"},{"x":710,"y":4.2,"t":"568 cm⁻¹","k":"c"}
  ]
},
"concat": [
  {
    "width": 275, "height": 228,
    "view": {"stroke": null},
    "resolve": {"axis": {"x": "independent", "y": "independent"}},
    "layer": [
      {"data": {"name": "a_lines"}, "mark": {"type": "line", "strokeWidth": 1.7},
       "encoding": {
         "x": {"field": "x", "type": "quantitative", "scale": {"domain": [10, 80], "nice": false}, "axis": {"orient": "bottom", "values": [10,20,30,40,50,60,70,80], "title": "2 Theta (degree)", "tickSize": 3, "labelPadding": 1, "titlePadding": 3}},
         "y": {"field": "y", "type": "quantitative", "scale": {"domain": [0, 100], "nice": false}, "axis": {"orient": "left", "title": "Intensity (a.u.)", "labels": false, "ticks": false, "titlePadding": 6}},
         "color": {"field": "s", "type": "nominal", "scale": {"domain": ["ZnCo₂O₄/g-C₃N₄", "ZnCo₂O₄", "C₃N₄"], "range": ["#0a0aff", "#ff0a0a", "#000000"]},
           "legend": {"orient": "none", "legendX": 167, "legendY": 8, "title": null, "symbolType": "M-1,0H6.3", "symbolSize": 36, "symbolStrokeWidth": 2.5, "labelOffset": 16, "rowPadding": 6}}
       }},
      {"data": {"name": "a_rules"}, "mark": {"type": "rule", "strokeDash": [3, 2], "color": "#8a8a8a", "strokeWidth": 1},
       "encoding": {
         "x": {"field": "x", "type": "quantitative", "axis": null},
         "y": {"field": "y", "type": "quantitative", "axis": null},
         "y2": {"field": "y2"}
       }},
      {"data": {"name": "a_labels"}, "mark": {"type": "text", "fontSize": 8, "fontWeight": "bold", "font": "Liberation Serif", "color": "#000", "baseline": "middle"},
       "encoding": {
         "x": {"field": "x", "type": "quantitative", "axis": null},
         "y": {"field": "y", "type": "quantitative", "axis": null},
         "text": {"field": "t"}
       }},
      {"data": {"name": "a_tag"}, "mark": {"type": "text", "fontSize": 22, "fontWeight": "bold", "font": "Liberation Serif", "color": "#000", "baseline": "alphabetic", "align": "left"},
       "encoding": {"x": {"field": "x", "type": "quantitative", "axis": null}, "y": {"field": "y", "type": "quantitative", "axis": null}, "text": {"field": "t"}}}
    ]
  },
  {
    "width": 272, "height": 222,
    "resolve": {"axis": {"x": "independent", "y": "independent"}},
    "layer": [
      {"data": {"name": "b_pts"}, "mark": {"type": "line", "strokeWidth": 1.6},
       "encoding": {
         "x": {"field": "x", "type": "quantitative", "scale": {"domain": [0, 1], "nice": false}, "axis": {"orient": "bottom", "values": [0,0.2,0.4,0.6,0.8,1.0], "format": ".1f", "title": "Relative Pressure P/P₀", "labelPadding": 5}},
         "y": {"field": "y", "type": "quantitative", "scale": {"domain": [-25, 275], "nice": false, "zero": false}, "axis": {"orient": "left", "values": [0,50,100,150,200,250], "title": "N² Adsorption/cm³.g⁻¹", "titlePadding": 3}},
         "stroke": {"field": "s", "type": "nominal", "scale": {"domain": ["ZnCo₂O₄/g-C₃N₄", "C₃N₄", "ZnCo₂O₄"], "range": ["#1010ff", "#000000", "#ff1010"]},
           "legend": {"orient": "none", "legendX": 13, "legendY": 47, "title": null, "symbolSize": 55, "symbolStrokeWidth": 1.5, "labelOffset": 15, "rowPadding": 9,
             "encode": {"symbols": {"update": {"shape": {"signal": "datum.value === 'C₃N₄' ? 'M-3.5,0H-0.9M0.9,0H3.5M-0.9,-0.9H0.9V0.9H-0.9Z' : datum.value === 'ZnCo₂O₄' ? 'M-3.5,0H-0.8M0.8,0H3.5M-1,-0.8H1L0,1Z' : 'M-3.5,0H-1M1,0H3.5M-1,0A1,1 0 1,1 1,0A1,1 0 1,1 -1,0Z'"}, "fill": {"value": "white"}, "opacity": {"value": 1}}}}}},
         "detail": {"field": "b"}
       }},
      {"data": {"name": "b_pts"}, "mark": {"type": "point", "filled": true, "fill": "white", "size": 26, "strokeWidth": 1.3, "opacity": 1},
       "encoding": {
         "x": {"field": "x", "type": "quantitative", "axis": null},
         "y": {"field": "y", "type": "quantitative", "axis": null},
         "stroke": {"field": "s", "type": "nominal",
           "legend": {"orient": "none", "legendX": 13, "legendY": 47, "title": null, "symbolSize": 55, "symbolStrokeWidth": 1.5, "labelOffset": 15, "rowPadding": 9,
             "encode": {"symbols": {"update": {"shape": {"signal": "datum.value === 'C₃N₄' ? 'M-3.5,0H-0.9M0.9,0H3.5M-0.9,-0.9H0.9V0.9H-0.9Z' : datum.value === 'ZnCo₂O₄' ? 'M-3.5,0H-0.8M0.8,0H3.5M-1,-0.8H1L0,1Z' : 'M-3.5,0H-1M1,0H3.5M-1,0A1,1 0 1,1 1,0A1,1 0 1,1 -1,0Z'"}, "fill": {"value": "white"}, "opacity": {"value": 1}}}}}},
         "shape": {"field": "s", "type": "nominal", "scale": {"domain": ["ZnCo₂O₄/g-C₃N₄", "C₃N₄", "ZnCo₂O₄"], "range": ["circle", "square", "triangle-down"]}, "legend": null}
       }},
      {"data": {"name": "b_tag"}, "mark": {"type": "text", "fontSize": 22, "fontWeight": "bold", "font": "Liberation Serif", "color": "#000", "baseline": "alphabetic", "align": "left"},
       "encoding": {
         "x": {"field": "x", "type": "quantitative", "axis": {"orient": "bottom", "values": [0.1,0.3,0.5,0.7,0.9], "labels": false, "domain": false, "tickSize": 2.5, "title": null}},
         "y": {"field": "y", "type": "quantitative", "axis": {"orient": "left", "values": [-25,25,75,125,175,225,275], "labels": false, "domain": false, "tickSize": 2.5, "title": null}},
         "text": {"field": "t"}}}
    ]
  },
  {
    "width": 275, "height": 221,
    "resolve": {"axis": {"x": "independent", "y": "independent"}},
    "layer": [
      {"data": {"name": "c_lines"}, "mark": {"type": "line", "strokeWidth": 1.7},
       "encoding": {
         "x": {"field": "x", "type": "quantitative", "scale": {"domain": [50, 800], "nice": false}, "axis": {"orient": "bottom", "values": [100,200,300,400,500,600,700,800], "title": "Temperature (°C)", "labelPadding": 4}},
         "y": {"field": "y", "type": "quantitative", "scale": {"domain": [0, 110], "nice": false}, "axis": {"orient": "left", "values": [0,20,40,60,80,100], "title": "Weight (wt.%)", "labelPadding": 2, "titlePadding": 5}},
         "color": {"field": "s", "type": "nominal", "scale": {"domain": ["ZnCo₂O₄", "ZnCo₂O₄/C₃N₄", "C₃N₄"], "range": ["#606060", "#ff2a2a", "#1e7fe6"]},
           "legend": {"orient": "none", "legendX": 12, "legendY": 81, "title": null, "symbolType": "M-1,0H7.7", "symbolSize": 36, "symbolStrokeWidth": 2, "labelOffset": 21, "rowPadding": 3}}
       }},
      {"data": {"name": "c_tag"}, "mark": {"type": "text", "fontSize": 22, "fontWeight": "bold", "font": "Liberation Serif", "color": "#000", "baseline": "alphabetic", "align": "left"},
       "encoding": {
         "x": {"field": "x", "type": "quantitative", "axis": {"orient": "bottom", "values": [50,150,250,350,450,550,650,750], "labels": false, "domain": false, "tickSize": 2.5, "title": null}},
         "y": {"field": "y", "type": "quantitative", "axis": {"orient": "left", "values": [10,30,50,70,90,110], "labels": false, "domain": false, "tickSize": 2.5, "title": null}},
         "text": {"field": "t"}}}
    ]
  },
  {
    "width": 271, "height": 222,
    "resolve": {"axis": {"x": "independent", "y": "independent"}},
    "layer": [
      {"data": {"name": "d_lines"}, "mark": {"type": "line", "strokeWidth": 1.7},
       "encoding": {
         "x": {"field": "x", "type": "quantitative", "scale": {"domain": [420, 3750], "reverse": true, "nice": false, "zero": false}, "axis": {"orient": "bottom", "values": [3500,3000,2500,2000,1500,1000,500], "format": "d", "title": "Wavenumber (cm⁻¹)", "labelPadding": 4}},
         "y": {"field": "y", "type": "quantitative", "scale": {"domain": [0, 100], "nice": false}, "axis": {"orient": "left", "title": "Intensity (a.u.)", "labels": false, "ticks": false, "titlePadding": 12}},
         "color": {"field": "s", "type": "nominal", "scale": {"domain": ["C₃N₄", "ZnCo₂O₄/g-C₃N₄", "ZnCo₂O₄"], "range": ["#000000", "#0a0aff", "#ff1010"]}, "legend": null}
       }},
      {"data": {"name": "d_bands"}, "mark": {"type": "rect", "opacity": 0.7},
       "encoding": {
         "x": {"field": "x", "type": "quantitative", "axis": null}, "x2": {"field": "x2"},
         "y": {"field": "y", "type": "quantitative", "axis": null}, "y2": {"field": "y2"},
         "fill": {"field": "band", "type": "nominal", "scale": {"domain": ["oh", "cn"], "range": ["#c9d5f2", "#c2e2fb"]}, "legend": null}
       }},
      {"data": {"name": "d_rules"}, "mark": {"type": "rule", "strokeDash": [4, 2], "color": "#000", "strokeWidth": 1},
       "encoding": {"x": {"field": "x", "type": "quantitative", "axis": null}, "y": {"field": "y", "type": "quantitative", "axis": null}, "y2": {"field": "y2"}}},
      {"data": {"name": "d_arrows"}, "mark": {"type": "rule", "color": "#000", "strokeWidth": 1},
       "encoding": {"x": {"field": "x", "type": "quantitative", "axis": null}, "x2": {"field": "x2"}, "y": {"field": "y", "type": "quantitative", "axis": null}, "y2": {"field": "y2"}}},
      {"data": {"name": "d_ctext"}, "mark": {"type": "text", "fontSize": 10, "fontWeight": "bold", "font": "Liberation Serif", "color": "#000", "baseline": "middle", "align": "center"},
       "encoding": {"x": {"field": "x", "type": "quantitative", "axis": null}, "y": {"field": "y", "type": "quantitative", "axis": null}, "text": {"field": "t"}}},
      {"data": {"name": "d_ltext"}, "mark": {"type": "text", "fontSize": 12.5, "fontWeight": "bold", "font": "Liberation Serif", "color": "#000", "baseline": "middle", "align": "left"},
       "encoding": {"x": {"field": "x", "type": "quantitative", "axis": null}, "y": {"field": "y", "type": "quantitative", "axis": null}, "text": {"field": "t"}}},
      {"data": {"name": "d_small"}, "transform": [{"filter": "datum.k == 'r'"}], "mark": {"type": "text", "fontSize": 9, "fontWeight": "bold", "font": "Liberation Serif", "color": "#000", "baseline": "middle", "align": "right"},
       "encoding": {"x": {"field": "x", "type": "quantitative", "axis": null}, "y": {"field": "y", "type": "quantitative", "axis": null}, "text": {"field": "t"}}},
      {"data": {"name": "d_small"}, "transform": [{"filter": "datum.k == 'c'"}], "mark": {"type": "text", "fontSize": 9, "fontWeight": "bold", "font": "Liberation Serif", "color": "#000", "baseline": "middle", "align": "center"},
       "encoding": {"x": {"field": "x", "type": "quantitative", "axis": null}, "y": {"field": "y", "type": "quantitative", "axis": null}, "text": {"field": "t"}}},
      {"data": {"name": "d_tag"}, "mark": {"type": "text", "fontSize": 22, "fontWeight": "bold", "font": "Liberation Serif", "color": "#000", "baseline": "alphabetic", "align": "left"},
       "encoding": {
         "x": {"field": "x", "type": "quantitative", "axis": {"orient": "bottom", "values": [3250,2750,2250,1750,1250,750], "labels": false, "domain": false, "tickSize": 2.5, "title": null}},
         "y": {"field": "y", "type": "quantitative", "axis": null},
         "text": {"field": "t"}}}
    ]
  }
],
"columns": 2,
"bounds": "flush",
"spacing": {"row": 43, "column": 77},
"resolve": {"scale": {"x": "independent", "y": "independent", "color": "independent", "stroke": "independent", "shape": "independent", "fill": "independent"}}
}
